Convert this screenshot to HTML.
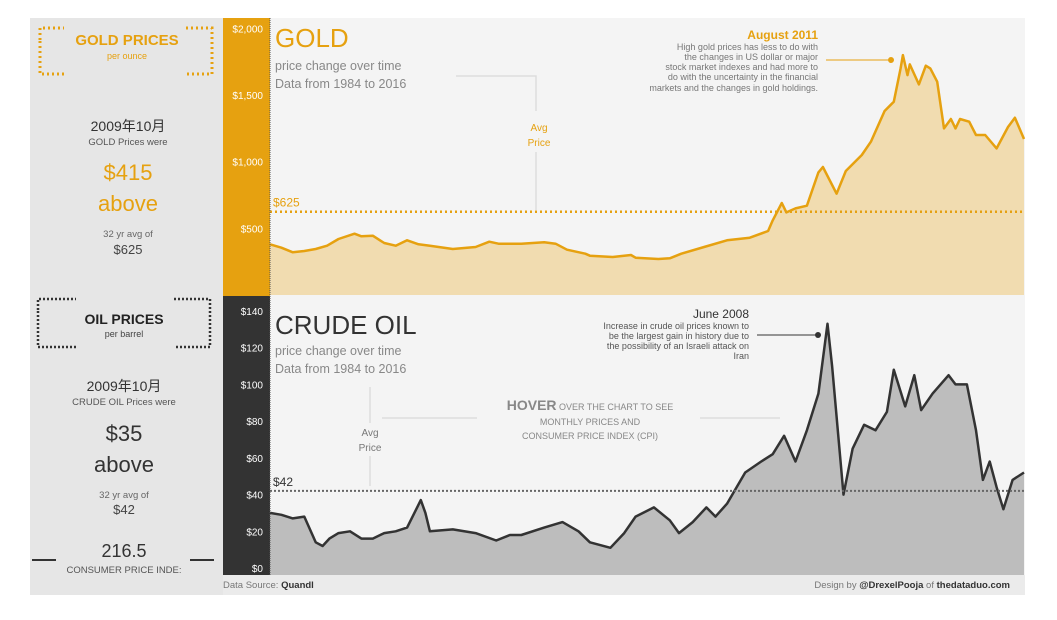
<!DOCTYPE html>
<html><head><meta charset="utf-8"><style>
body{margin:0;background:#fff;width:1057px;height:615px;overflow:hidden;font-family:"Liberation Sans","Noto Sans CJK SC",sans-serif}
text{font-family:"Liberation Sans","Noto Sans CJK SC",sans-serif}
</style></head><body>
<svg width="1057" height="615">
<rect x="30" y="18" width="995" height="577" fill="#f4f4f4"/>
<rect x="30" y="18" width="193" height="577" fill="#e6e6e6"/>
<rect x="223" y="18" width="47" height="278" fill="#e6a110"/>
<rect x="223" y="296" width="47" height="279" fill="#333"/>
<rect x="223" y="575" width="802" height="20" fill="#ebebeb"/>
<g id="left">
<path d="M40 40V28h24M186 28h26v46h-26M64 74H40V40" fill="none" stroke="#e6a110" stroke-width="3" stroke-dasharray="2 3"/>
<text x="127" y="45" text-anchor="middle" fill="#e6a110" font-size="15" font-weight="bold">GOLD PRICES</text>
<text x="127" y="59" text-anchor="middle" fill="#e6a110" font-size="9">per ounce</text>
<text x="128" y="131" text-anchor="middle" fill="#333" font-size="14">2009年10月</text>
<text x="128" y="145" text-anchor="middle" fill="#555" font-size="9.5">GOLD Prices were</text>
<text x="128" y="180" text-anchor="middle" fill="#e6a110" font-size="22">$415</text>
<text x="128" y="211" text-anchor="middle" fill="#e6a110" font-size="22">above</text>
<text x="128" y="237" text-anchor="middle" fill="#666" font-size="9.5">32 yr avg of</text>
<text x="128" y="254" text-anchor="middle" fill="#444" font-size="13">$625</text>
<path d="M38 310V299h38M174 299h36v48h-36M76 347H38V310" fill="none" stroke="#333" stroke-width="2.5" stroke-dasharray="2 2"/>
<text x="124" y="324" text-anchor="middle" fill="#222" font-size="14" font-weight="bold">OIL PRICES</text>
<text x="124" y="337" text-anchor="middle" fill="#444" font-size="9">per barrel</text>
<text x="124" y="391" text-anchor="middle" fill="#333" font-size="14">2009年10月</text>
<text x="124" y="405" text-anchor="middle" fill="#555" font-size="9.5">CRUDE OIL Prices were</text>
<text x="124" y="441" text-anchor="middle" fill="#333" font-size="22">$35</text>
<text x="124" y="472" text-anchor="middle" fill="#333" font-size="22">above</text>
<text x="124" y="498" text-anchor="middle" fill="#666" font-size="9.5">32 yr avg of</text>
<text x="124" y="514" text-anchor="middle" fill="#444" font-size="13">$42</text>
<path d="M32 560h24M190 560h24" stroke="#333" stroke-width="2"/>
<text x="124" y="557" text-anchor="middle" fill="#333" font-size="18">216.5</text>
<text x="124" y="573" text-anchor="middle" fill="#555" font-size="9.5">CONSUMER PRICE INDE:</text>
</g>
<text x="275" y="47" fill="#e6a110" font-size="26">GOLD</text>
<text x="275" y="70" fill="#888" font-size="12.5">price change over time</text>
<text x="275" y="88" fill="#888" font-size="12.5">Data from 1984 to 2016</text>
<path d="M456 76h80v35M536 152v58" stroke="#ddd" stroke-width="1.5" fill="none"/>
<text x="539" y="131" text-anchor="middle" fill="#e6a110" font-size="10">Avg</text>
<text x="539" y="146" text-anchor="middle" fill="#e6a110" font-size="10">Price</text>
<text x="818" y="39" text-anchor="end" fill="#e6a110" font-size="12" font-weight="bold">August 2011</text>
<g fill="#777" font-size="9" text-anchor="end">
<text x="818" y="50">High gold prices has less to do with</text><text x="818" y="60">the changes in US dollar or major</text><text x="818" y="70">stock market indexes and had more to</text><text x="818" y="80">do with the uncertainty in the financial</text><text x="818" y="91">markets and the changes in gold holdings.</text></g>
<path d="M826 60h62" stroke="#e6a110"/><circle cx="891" cy="60" r="3" fill="#e6a110"/>
<text x="275" y="334" fill="#333" font-size="26">CRUDE OIL</text>
<text x="275" y="355" fill="#888" font-size="12.5">price change over time</text>
<text x="275" y="373" fill="#888" font-size="12.5">Data from 1984 to 2016</text>
<path d="M370 387v36M370 456v30M382 418h95M700 418h80" stroke="#ddd" stroke-width="1.5"/>
<text x="370" y="436" text-anchor="middle" fill="#777" font-size="10">Avg</text>
<text x="370" y="451" text-anchor="middle" fill="#777" font-size="10">Price</text>
<text x="590" y="410" text-anchor="middle" fill="#888" font-size="9"><tspan font-size="14" font-weight="bold">HOVER</tspan> OVER THE CHART TO SEE</text>
<text x="590" y="425" text-anchor="middle" fill="#888" font-size="9">MONTHLY PRICES AND</text>
<text x="590" y="439" text-anchor="middle" fill="#888" font-size="9">CONSUMER PRICE INDEX (CPI)</text>
<text x="749" y="318" text-anchor="end" fill="#333" font-size="12">June 2008</text>
<g fill="#555" font-size="9" text-anchor="end"><text x="749" y="329">Increase in crude oil prices known to</text><text x="749" y="339">be the largest gain in history due to</text><text x="749" y="349">the possibility of an Israeli attack on</text><text x="749" y="359">Iran</text></g>
<path d="M757 335h60" stroke="#333"/><circle cx="818" cy="335" r="3" fill="#333"/>
<text x="223" y="588" fill="#777" font-size="9.5">Data Source: <tspan fill="#333" font-weight="bold">Quandl</tspan></text>
<text x="1010" y="588" text-anchor="end" fill="#777" font-size="9.5">Design by <tspan fill="#333" font-weight="bold">@DrexelPooja</tspan> of <tspan fill="#333" font-weight="bold">thedataduo.com</tspan></text>
<g id="charts"></g>
</svg>
<script>
const goldYears=[1984,1984.5,1985,1985.5,1986,1986.5,1987,1987.7,1988,1988.5,1989,1989.5,1990,1990.5,1991,1992,1993,1993.6,1994,1995,1996,1996.5,1997,1997.8,1998,1999,1999.8,2000,2001,2001.5,2002,2003,2004,2005,2005.8,2006,2006.4,2006.6,2007,2007.5,2008,2008.2,2008.8,2009.2,2009.9,2010.3,2010.9,2011.3,2011.6,2011.7,2011.9,2012,2012.4,2012.7,2012.9,2013.2,2013.5,2013.8,2014,2014.2,2014.6,2014.9,2015.3,2015.8,2016.3,2016.6,2017];
const goldValues=[380,355,320,330,345,370,420,460,440,445,390,370,410,380,370,345,360,400,385,385,395,385,340,310,295,285,300,280,270,275,310,360,410,430,480,560,690,620,650,670,920,960,760,930,1050,1150,1380,1450,1700,1800,1650,1730,1580,1720,1700,1600,1250,1320,1250,1320,1300,1200,1200,1100,1260,1330,1170];
const oilYears=[1984,1984.5,1985,1985.5,1986,1986.3,1986.6,1987,1987.5,1988,1988.5,1989,1989.5,1990,1990.6,1990.8,1991,1992,1993,1993.9,1994.5,1995,1996,1996.8,1997.5,1998,1998.9,1999.5,2000,2000.8,2001.5,2001.9,2002.5,2003.1,2003.5,2004,2004.8,2005.5,2006,2006.5,2007,2007.5,2008,2008.4,2008.6,2009.1,2009.5,2010,2010.5,2011,2011.3,2011.8,2012.2,2012.5,2013,2013.7,2014,2014.5,2014.9,2015.2,2015.5,2015.8,2016.1,2016.5,2017];
const oilValues=[30,29,27,28,14,12,16,19,20,16,16,19,20,22,37,30,20,21,19,15,18,18,22,25,20,14,11,19,28,33,26,19,25,33,28,35,52,58,62,72,58,75,95,133,110,40,65,78,75,85,108,88,105,86,95,105,100,100,75,48,58,44,32,48,52];
const xTicks=[0,20,40,60,80,100,120,140];
const goldTicks=[500,1000,1500,2000];
const goldTickLabels=["$500","$1,000","$1,500","$2,000"];
const oilTickLabels=["$0","$20","$40","$60","$80","$100","$120","$140"];
const goldAvg=625, oilAvg=42;
const NS="http://www.w3.org/2000/svg";
const g=document.getElementById('charts');
const xs=y=>270+(y-1984)/(2017-1984)*754;
const gy=v=>295-v*0.1333;
const oy=v=>568-v*1.836;
function mk(tag,attrs,txt){const e=document.createElementNS(NS,tag);for(const k in attrs)e.setAttribute(k,attrs[k]);if(txt!=null)e.textContent=txt;g.appendChild(e);return e;}
function series(years,vals,yf,base,fill,stroke,name){
 let d=years.map((y,i)=>(i?'L':'M')+xs(y).toFixed(1)+' '+yf(vals[i]).toFixed(1)).join(' ');
 const a=mk('path',{d:d+` L${xs(years[years.length-1])} ${base} L${xs(years[0])} ${base} Z`,fill:fill});
 
 
 const l=mk('path',{d:d,fill:'none',stroke:stroke,'stroke-width':2.5,'stroke-linejoin':'round'});
 
 
}
series(goldYears,goldValues,gy,295,'#f1dcb0','#e6a110','gold-price');
series(oilYears,oilValues,oy,575,'#bdbdbd','#333','oil-price');
let ga=mk('line',{x1:270,x2:1024,y1:gy(goldAvg),y2:gy(goldAvg),stroke:'#e6a110','stroke-width':2.5,'stroke-dasharray':'2 3'});


let gl=mk('text',{x:273,y:gy(goldAvg)-5,fill:'#e6a110','font-size':12},'$'+goldAvg);


let oa=mk('line',{x1:270,x2:1024,y1:oy(oilAvg),y2:oy(oilAvg),stroke:'#666','stroke-width':2,'stroke-dasharray':'2 2'});


let ol=mk('text',{x:273,y:oy(oilAvg)-5,fill:'#333','font-size':12},'$'+oilAvg);


let ax1=mk('line',{x1:270,x2:270,y1:18,y2:575,stroke:'#555','stroke-dasharray':'1 1'});


goldTicks.forEach((v,i)=>{const t=mk('text',{x:263,y:gy(v)+4,'text-anchor':'end',fill:'#fff','font-size':10},goldTickLabels[i]);
 
 });
xTicks.forEach((v,i)=>{const t=mk('text',{x:263,y:oy(v)+4,'text-anchor':'end',fill:'#fff','font-size':10},oilTickLabels[i]);
 
 });
</script>
</body></html>
